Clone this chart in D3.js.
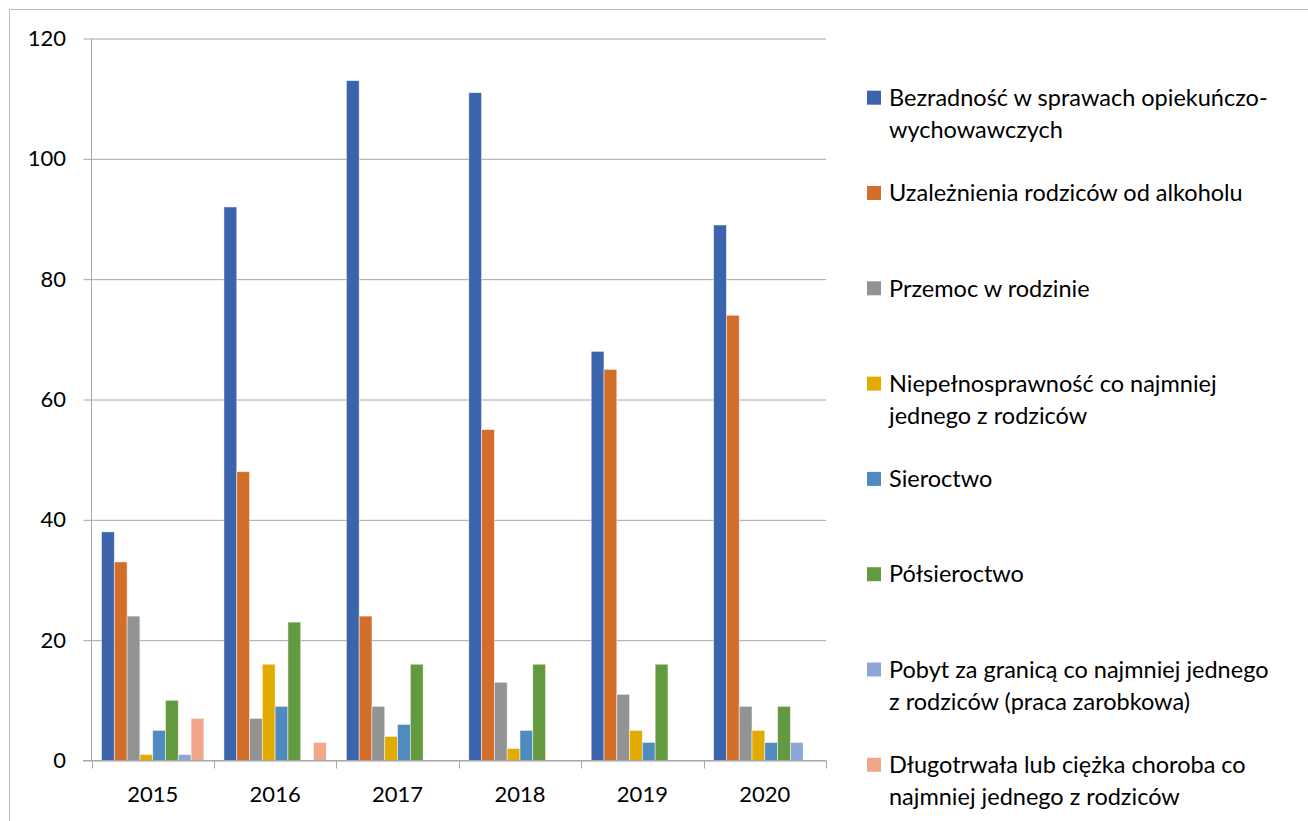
<!DOCTYPE html>
<html><head><meta charset="utf-8">
<script src="https://cdn.jsdelivr.net/npm/d3@7"></script>
<style>
html,body{margin:0;padding:0;background:#fff;}
svg{display:block;}
text{font-family:"Lato","Open Sans",sans-serif;fill:#000;}
</style></head>
<body>
<svg id="c" width="1308" height="821"></svg>
<script>
const years = ["2015","2016","2017","2018","2019","2020"];
const seriesNames = [
  ["Bezradność w sprawach opiekuńczo-","wychowawczych"],
  ["Uzależnienia rodziców od alkoholu"],
  ["Przemoc w rodzinie"],
  ["Niepełnosprawność co najmniej","jednego z rodziców"],
  ["Sieroctwo"],
  ["Półsieroctwo"],
  ["Pobyt za granicą co najmniej jednego","z rodziców (praca zarobkowa)"],
  ["Długotrwała lub ciężka choroba co","najmniej jednego z rodziców"]
];
const bezradnosc   = [38, 92, 113, 111, 68, 89];
const alkohol      = [33, 48, 24, 55, 65, 74];
const przemoc      = [24, 7, 9, 13, 11, 9];
const niepelnospr  = [1, 16, 4, 2, 5, 5];
const sieroctwo    = [5, 9, 6, 5, 3, 3];
const polsieroctwo = [10, 23, 16, 16, 16, 9];
const pobyt        = [1, 0, 0, 0, 0, 3];
const choroba      = [7, 3, 0, 0, 0, 0];
const seriesValues = [bezradnosc, alkohol, przemoc, niepelnospr, sieroctwo, polsieroctwo, pobyt, choroba];
const colors = ["#3B64AD","#D36D2A","#939393","#E1AB00","#4F8BBF","#639A3F","#8FA5D7","#F1A78B"];
const yTicks = [0,20,40,60,80,100,120];

const svg = d3.select("#c");
const gridColor = "#A6A6A6";

// outer border
svg.append("path").attr("d","M9.5,830 V9.5 H1320").attr("fill","none").attr("stroke","#BFBFBF").attr("stroke-width",1);

const x0 = d3.scaleBand().domain(years).range([91.5, 826]).paddingInner(0).paddingOuter(0);
const y = d3.scaleLinear().domain([0,120]).range([760.5, 38.5]);
const gap = 1.57;
const nS = seriesValues.length;
const bw = x0.bandwidth()/(nS+gap);
const x1 = d3.scaleBand().domain(d3.range(nS)).range([bw*gap/2, bw*gap/2 + bw*nS]).padding(0);

// gridlines + y axis
const yAxis = d3.axisLeft(y).tickValues(yTicks).tickSize(8).tickPadding(17.5);
const gy = svg.append("g").attr("transform","translate(91.5,0)").call(yAxis);
gy.select(".domain").remove();
gy.selectAll(".tick line").attr("stroke",gridColor).attr("x2",826-91.5).attr("x1",-8);
gy.selectAll(".tick text").attr("font-size",22).attr("font-family","Lato").attr("fill","#000");
svg.append("line").attr("x1",91.5).attr("x2",91.5).attr("y1",38.5).attr("y2",760.5).attr("stroke",gridColor);

// bars
const groups = svg.append("g").selectAll("g").data(years).join("g")
  .attr("transform", d=>`translate(${x0(d)},0)`);
groups.selectAll("rect").data((d,i)=>seriesValues.map((s,j)=>({j, v:s[i]})))
  .join("rect")
  .filter(d=>d.v>0)
  .attr("x", d=>x1(d.j))
  .attr("width", x1.bandwidth())
  .attr("y", d=>y(d.v))
  .attr("height", d=>y(0)-y(d.v))
  .attr("fill", d=>colors[d.j])
  .attr("stroke","#ffffff").attr("stroke-opacity",0.6).attr("stroke-width",0.8);

// x axis
const xAxis = d3.axisBottom(x0).tickSize(0).tickPadding(26);
const gx = svg.append("g").attr("transform","translate(0,760.5)").call(xAxis);
gx.select(".domain").remove();
gx.selectAll(".tick text").attr("font-size",22).attr("font-family","Lato").attr("fill","#000");
svg.append("line").attr("x1",83).attr("x2",826).attr("y1",760.5).attr("y2",760.5).attr("stroke",gridColor);
const bounds = years.map(d=>x0(d)).concat([x0.range()[1]]);
svg.append("g").selectAll("line").data(bounds).join("line")
  .attr("x1",d=>Math.round(d)+0.5).attr("x2",d=>Math.round(d)+0.5)
  .attr("y1",760.5).attr("y2",768.5).attr("stroke",gridColor);

// legend
const leg = svg.append("g");
const legStart = 97.7, legStep = 95.3, lineH = 32;
seriesNames.forEach((lines,i)=>{
  const cy = legStart + i*legStep;
  leg.append("rect").attr("x",867).attr("y",cy-7).attr("width",14).attr("height",14).attr("fill",colors[i]);
  const t = leg.append("text").attr("font-size",23.5);
  lines.forEach((l,k)=>{
    t.append("tspan").attr("x",889).attr("y",cy + k*lineH).attr("dy","0.35em").text(l);
  });
});
</script>
</body></html>
